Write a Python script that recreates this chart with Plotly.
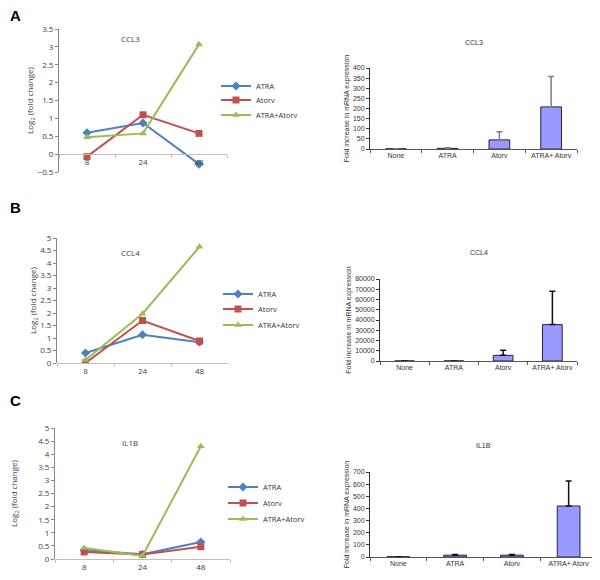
import plotly.graph_objects as go

# time points (hours) for the line charts
timepoints = ["8", "24", "48"]
series_names = ["ATRA", "Atorv", "ATRA+Atorv"]

# log2 fold change
ccl3_atra = [0.6, 0.87, -0.28]
ccl3_atorv = [-0.07, 1.1, 0.58]
ccl3_combo = [0.47, 0.58, 3.07]

ccl4_atra = [0.4, 1.13, 0.83]
ccl4_atorv = [0.0, 1.7, 0.88]
ccl4_combo = [0.12, 1.97, 4.65]

il1b_atra = [0.33, 0.18, 0.65]
il1b_atorv = [0.27, 0.17, 0.47]
il1b_combo = [0.42, 0.12, 4.3]

# bar charts: fold increase in mRNA expression (mean, upper error)
conditions = ["None", "ATRA", "Atorv", "ATRA+ Atorv"]
ccl3_fold = [1, 3, 45, 208]
ccl3_err = [0, 3, 40, 150]
ccl4_fold = [60, 60, 5500, 35500]
ccl4_err = [0, 0, 5000, 32500]
il1b_fold = [2, 15, 15, 420]
il1b_err = [0, 5, 5, 205]

line_colors = ["#4F81BD", "#C0504D", "#9BBB59"]
line_symbols = ["diamond", "square", "triangle-up"]
bar_fill = "#9999FF"

# the page has an 8px body margin, so the figure is made 8px smaller
# and all page positions are shifted by that amount
OFF = 8
W, H = 600 - OFF, 580 - OFF


def fx(p):
    return (p - OFF) / W


def fy(p):
    return 1 - (p - OFF) / H


def px_x(a, b):
    return [fx(a), fx(b)]


def px_y(top, bottom):
    return [fy(bottom), fy(top)]


fig = go.Figure()

panels = [
    dict(gene="CCL3", lines=[ccl3_atra, ccl3_atorv, ccl3_combo],
         lx=(59, 227), ly=(29, 172), lrange=[-0.5, 3.5], leg_x=216, leg_y=[86, 100, 115],
         bars=ccl3_fold, errs=ccl3_err, bx=(370, 577), by=(68, 149),
         brange=[0, 400], bdtick=50, title_ly=39, title_by=43, letter="A", letter_y=16,
         err_color="#7f7f7f", ltitle_standoff=2),
    dict(gene="CCL4", lines=[ccl4_atra, ccl4_atorv, ccl4_combo],
         lx=(57, 228), ly=(238, 363), lrange=[0, 5], leg_x=218, leg_y=[294, 309, 325],
         bars=ccl4_fold, errs=ccl4_err, bx=(380, 577), by=(279, 361),
         brange=[0, 80000], bdtick=10000, title_ly=252, title_by=252, letter="B", letter_y=208,
         err_color="#111111", ltitle_standoff=2),
    dict(gene="IL1B", lines=[il1b_atra, il1b_atorv, il1b_combo],
         lx=(55, 230), ly=(428, 559), lrange=[0, 5], leg_x=223, leg_y=[487, 503, 519],
         bars=il1b_fold, errs=il1b_err, bx=(370, 597), by=(472, 557),
         brange=[0, 700], bdtick=100, title_ly=442, title_by=445, letter="C", letter_y=400,
         err_color="#111111", ltitle_standoff=24),
]

annotations = []
axis_font = dict(family="Liberation Sans, Arial", size=7, color="#333333")
line_font = dict(family="Open Sans, Liberation Sans", size=8, color="#404040")
legend_font = dict(family="Open Sans, Liberation Sans", size=7.5, color="#333333")

legend_no = 0
for i, p in enumerate(panels):
    lx_id, bx_id = 2 * i + 1, 2 * i + 2
    lxa, lya = f"x{lx_id}", f"y{lx_id}"
    bxa, bya = f"x{bx_id}", f"y{bx_id}"

    for k, (name, vals, col, sym) in enumerate(zip(series_names, p["lines"], line_colors, line_symbols)):
        legend_no += 1
        leg_name = "legend" if legend_no == 1 else f"legend{legend_no}"
        fig.add_trace(go.Scatter(
            x=timepoints, y=vals, name=name, mode="lines+markers",
            line=dict(color=col, width=2),
            marker=dict(symbol=sym, size=7, color=col),
            xaxis=lxa, yaxis=lya, legend=leg_name,
        ))
        fig.update_layout(**{leg_name: dict(
            x=fx(p["leg_x"]), y=fy(p["leg_y"][k]), xanchor="left", yanchor="middle",
            font=legend_font, bgcolor="rgba(0,0,0,0)", itemwidth=30, borderwidth=0,
        )})

    fig.add_trace(go.Bar(
        x=conditions, y=p["bars"], width=0.4, showlegend=False,
        marker=dict(color=bar_fill, line=dict(color="#222244", width=1)),
        error_y=dict(type="data", array=p["errs"], symmetric=False,
                     arrayminus=[0] * len(conditions), color=p["err_color"],
                     thickness=1.5, width=3),
        xaxis=bxa, yaxis=bya,
    ))

    ydom = px_y(*p["ly"])
    y0, y1 = p["lrange"]
    zero_pos = ydom[0] + (0 - y0) / (y1 - y0) * (ydom[1] - ydom[0])

    lsuffix = "" if lx_id == 1 else str(lx_id)
    fig.update_layout(**{
        f"xaxis{lsuffix}": dict(
            domain=px_x(*p["lx"]), anchor="free", position=zero_pos,
            type="category", range=[-0.5, 2.5], tickson="boundaries",
            ticks="outside", ticklen=3, tickcolor="#BFBFBF", tickangle=0,
            showline=True, linecolor="#BFBFBF", linewidth=1, automargin=False,
            showgrid=False, zeroline=False, tickfont=line_font,
        ),
        f"yaxis{lsuffix}": dict(
            domain=ydom, anchor=lxa, range=p["lrange"], dtick=0.5,
            ticks="outside", ticklen=3, tickcolor="#868686", automargin=False,
            showline=True, linecolor="#868686", linewidth=1,
            showgrid=False, zeroline=False, tickfont=line_font,
            title=dict(text="Log<sub>2</sub> (fold change)", font=line_font,
                       standoff=p["ltitle_standoff"]),
        ),
        f"xaxis{bx_id}": dict(
            domain=px_x(*p["bx"]), anchor=bya, type="category", tickangle=0,
            range=[-0.5, 3.5], tickson="boundaries", ticks="outside", ticklen=3,
            tickcolor="#555555", showline=True, linecolor="#555555", linewidth=1,
            showgrid=False, zeroline=False, tickfont=axis_font, automargin=False,
        ),
        f"yaxis{bx_id}": dict(
            domain=px_y(*p["by"]), anchor=bxa, range=p["brange"], dtick=p["bdtick"],
            tickformat="d", ticks="outside", ticklen=3, tickcolor="#333333",
            showline=True, linecolor="#333333", linewidth=1, automargin=False,
            showgrid=False, zeroline=False, tickfont=axis_font,
            title=dict(text="Fold increase in mRNA expression", font=axis_font, standoff=2),
        ),
    })

    annotations += [
        dict(text=p["gene"], x=fx(130), y=fy(p["title_ly"]), xref="paper", yref="paper",
             showarrow=False, font=line_font, xanchor="center", yanchor="middle"),
        dict(text=p["gene"], x=fx((p["bx"][0] + p["bx"][1]) / 2), y=fy(p["title_by"]),
             xref="paper", yref="paper", showarrow=False, font=axis_font,
             xanchor="center", yanchor="middle"),
        dict(text=f"<b>{p['letter']}</b>", x=0, y=fy(p["letter_y"]),
             xref="paper", yref="paper", showarrow=False, xanchor="left", yanchor="middle",
             font=dict(family="Liberation Sans, Arial", size=15, color="black")),
    ]

fig.update_layout(
    width=W, height=H, margin=dict(l=0, r=0, t=0, b=0),
    paper_bgcolor="white", plot_bgcolor="white",
    annotations=annotations, bargap=0.6,
)

fig.write_html("out.html")
